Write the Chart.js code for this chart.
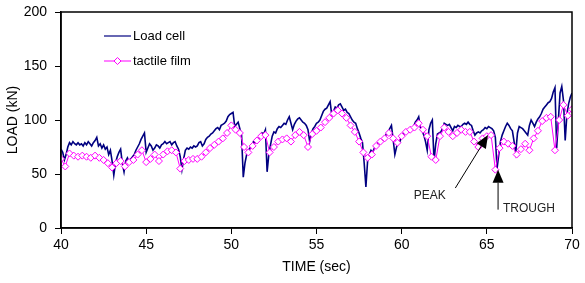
<!DOCTYPE html>
<html>
<head>
<meta charset="utf-8">
<script src="https://cdn.jsdelivr.net/npm/chart.js@4/dist/chart.umd.min.js"></script>
<style>
  html, body { margin: 0; padding: 0; background: #fff; }
  #wrap { width: 585px; height: 283px; position: relative; }
</style>
</head>
<body>
<div id="wrap"><canvas id="loadChart"></canvas></div>
<script>
// Load cell, sampled every 0.1 s from 40.0 to 70.0 s (kN)
const loadStart = 40, loadStep = 0.1;
const loadCell = [
  73, 70, 63, 68, 75, 79, 77, 80, 78, 77,
  79, 77, 78, 76, 79, 77, 80, 78, 76, 79,
  81, 84, 76, 78, 74, 77, 73, 75, 68, 72,
  62, 49, 60, 66, 70, 73, 60, 52, 62, 65,
  61, 64, 66, 68, 72, 75, 78, 82, 85, 88,
  70, 74, 78, 76, 72, 74, 77, 76, 74, 77,
  78, 80, 78, 79, 80, 77, 79, 80, 76, 73,
  66, 54, 64, 72, 74, 73, 75, 74, 76, 75,
  76, 79, 80, 76, 78, 82, 84, 85, 87, 88,
  90, 92, 93, 91, 95, 96, 97, 99, 103, 105,
  106, 107, 94, 96, 98, 92, 86, 47, 60, 68,
  72, 74, 77, 80, 79, 82, 83, 84, 88, 87,
  91, 52, 68, 77, 85, 89, 88, 92, 94, 93,
  95, 97, 96, 100, 103, 97, 91, 96, 99, 101,
  102, 100, 98, 97, 95, 91, 80, 88, 92, 94,
  97, 98, 100, 104, 108, 110, 111, 114, 117, 104,
  108, 112, 111, 114, 115, 112, 109, 110, 107, 106,
  103, 100, 98, 97, 92, 88, 83, 79, 60, 38,
  62, 68, 72, 70, 74, 75, 79, 78, 80, 81,
  84, 87, 89, 92, 95, 82, 68, 75, 78, 80,
  85, 88, 87, 89, 89, 90, 92, 94, 98, 100,
  103, 93, 90, 86, 80, 72, 91, 97, 100, 62,
  78, 87, 88, 89, 92, 97, 96, 95, 96, 93,
  90, 94, 93, 95, 94, 94, 96, 97, 96, 98,
  96, 95, 90, 86, 88, 89, 88, 90, 91, 93,
  92, 94, 93, 92, 90, 84, 55, 68, 80, 86,
  90, 94, 97, 95, 92, 90, 80, 70, 88, 94,
  93, 92, 90, 88, 86, 95, 100, 97, 94, 98,
  101, 103, 106, 110, 112, 114, 116, 117, 120, 126,
  130, 74, 100, 125, 131, 118, 81, 105, 115, 121,
  125
];

// Tactile film, one reading every 0.25 s (kN)
const filmStart = 40, filmStep = 0.25;
const tactileFilm = [
  64, 57, 69, 67,  66, 67, 66, 65,  67, 65, 63, 60,  56, 60, 62, 57,
  61, 63, 68, 72,  61, 64, 68, 62,  68, 71, 72, 70,  55, 62, 63, 64,
  64, 66, 70, 74,  77, 80, 83, 88,  95, 91, 88, 75,  70, 76, 81, 85,
  86, 70, 75, 80,  82, 83, 80, 86,  89, 86, 75, 87,  90, 93, 98, 102,
  106, 109, 106, 102,  95, 89, 80, 70,  65, 68, 76, 80,  83, 88, 83, 79,
  85, 89, 91, 93,  97, 91, 85, 66,  63, 85, 93, 89,  85, 88, 91, 89,
  89, 80, 75, 83,  85, 86, 54, 74,  80, 78, 76, 68,  73, 78, 72, 83,
  90, 99, 102, 103,  72, 100, 114, 104,  110
];

const xTicks = [40, 45, 50, 55, 60, 65, 70];
const yTicks = [0, 50, 100, 150, 200];

// annotation anchors in data units: [tailX, tailY, tipX, tipY]
const peakArrow = [63.15, 37, 65.07, 86];
const troughArrow = [65.66, 17, 65.66, 54];
const peakLabel = [61.65, 30];
const troughLabel = [65.95, 18];

const FONT = "Arial, 'Liberation Sans', sans-serif";
const NAVY = "#000080";
const MAGENTA = "#FF00FF";

const loadPoints = loadCell.map((v, i) => ({ x: loadStart + i * loadStep, y: v }));
const filmPoints = tactileFilm.map((v, i) => ({ x: filmStart + i * filmStep, y: v }));

function drawArrow(ctx, x1, y1, x2, y2) {
  const ang = Math.atan2(y2 - y1, x2 - x1);
  const len = 13, half = 5.5;
  const bx = x2 - len * Math.cos(ang), by = y2 - len * Math.sin(ang);
  ctx.beginPath();
  ctx.moveTo(x1, y1);
  ctx.lineTo(bx, by);
  ctx.stroke();
  ctx.beginPath();
  ctx.moveTo(x2, y2);
  ctx.lineTo(bx + half * Math.sin(ang), by - half * Math.cos(ang));
  ctx.lineTo(bx - half * Math.sin(ang), by + half * Math.cos(ang));
  ctx.closePath();
  ctx.fill();
}

const overlay = {
  id: "overlay",
  afterDatasetsDraw(chart) {
    const { ctx, chartArea: a, scales: { x, y } } = chart;
    ctx.save();

    // frame around plot
    ctx.strokeStyle = "#000";
    ctx.lineWidth = 1.5;
    ctx.strokeRect(a.left, a.top, a.right - a.left, a.bottom - a.top);

    // legend
    ctx.font = "13px " + FONT;
    ctx.textBaseline = "middle";
    ctx.fillStyle = "#000";
    const lx = a.left + 43, ly1 = a.top + 24, ly2 = a.top + 49;
    ctx.strokeStyle = NAVY;
    ctx.lineWidth = 1.2;
    ctx.beginPath(); ctx.moveTo(lx, ly1); ctx.lineTo(lx + 27, ly1); ctx.stroke();
    ctx.fillText("Load cell", lx + 29, ly1);
    ctx.strokeStyle = MAGENTA;
    ctx.lineWidth = 1;
    ctx.beginPath(); ctx.moveTo(lx, ly2); ctx.lineTo(lx + 27, ly2); ctx.stroke();
    ctx.fillStyle = "#fff";
    ctx.beginPath();
    ctx.moveTo(lx + 13.5, ly2 - 3.5); ctx.lineTo(lx + 17, ly2);
    ctx.lineTo(lx + 13.5, ly2 + 3.5); ctx.lineTo(lx + 10, ly2);
    ctx.closePath(); ctx.fill(); ctx.stroke();
    ctx.fillStyle = "#000";
    ctx.fillText("tactile film", lx + 29, ly2);

    // PEAK / TROUGH arrows
    ctx.strokeStyle = "#000";
    ctx.fillStyle = "#000";
    ctx.lineWidth = 1;
    drawArrow(ctx, x.getPixelForValue(peakArrow[0]), y.getPixelForValue(peakArrow[1]),
                   x.getPixelForValue(peakArrow[2]), y.getPixelForValue(peakArrow[3]));
    drawArrow(ctx, x.getPixelForValue(troughArrow[0]), y.getPixelForValue(troughArrow[1]),
                   x.getPixelForValue(troughArrow[2]), y.getPixelForValue(troughArrow[3]));

    ctx.font = "12px " + FONT;
    ctx.fillStyle = "#222";
    ctx.textAlign = "center";
    ctx.fillText("PEAK", x.getPixelForValue(peakLabel[0]), y.getPixelForValue(peakLabel[1]));
    ctx.textAlign = "left";
    ctx.fillText("TROUGH", x.getPixelForValue(troughLabel[0]), y.getPixelForValue(troughLabel[1]));
    ctx.restore();
  }
};

new Chart(document.getElementById("loadChart").getContext("2d"), {
  type: "line",
  data: {
    datasets: [
      {
        label: "tactile film",
        data: filmPoints,
        borderColor: MAGENTA,
        borderWidth: 1,
        pointStyle: "rectRot",
        pointRadius: 3.5,
        pointBorderWidth: 1,
        pointBorderColor: MAGENTA,
        pointBackgroundColor: "#fff",
        tension: 0,
        order: 0
      },
      {
        label: "Load cell",
        data: loadPoints,
        borderColor: NAVY,
        borderWidth: 1.6,
        pointRadius: 0,
        tension: 0,
        order: 1
      }
    ]
  },
  options: {
    responsive: true,
    maintainAspectRatio: false,
    animation: false,
    layout: { autoPadding: false, padding: { left: 0, right: 13, top: 12, bottom: 0 } },
    plugins: {
      legend: { display: false },
      tooltip: { enabled: false }
    },
    scales: {
      x: {
        type: "linear",
        min: 40,
        max: 70,
        afterBuildTicks: (s) => { s.ticks = xTicks.map(v => ({ value: v })); },
        afterFit: (s) => { s.height = 55; s.paddingLeft = 0; s.paddingRight = 0; },
        grid: { drawOnChartArea: false, drawTicks: true, tickLength: 6, color: "#000" },
        border: { display: true, color: "#000", width: 1.5 },
        ticks: { color: "#000", padding: 3, font: { family: FONT, size: 14 } },
        title: { display: true, text: "TIME (sec)", color: "#000", padding: { top: 0, bottom: 7 }, font: { family: FONT, size: 14 } }
      },
      y: {
        min: 0,
        max: 200,
        afterBuildTicks: (s) => { s.ticks = yTicks.map(v => ({ value: v })); },
        afterFit: (s) => { s.width = 61; s.paddingTop = 0; s.paddingBottom = 0; },
        grid: { drawOnChartArea: false, drawTicks: true, tickLength: 6, color: "#000" },
        border: { display: true, color: "#000", width: 1.5 },
        ticks: { color: "#000", padding: 8, font: { family: FONT, size: 14 } },
        title: { display: true, text: "LOAD (kN)", color: "#000", padding: { top: 5, bottom: 0 }, font: { family: FONT, size: 14 } }
      }
    }
  },
  plugins: [overlay]
});
</script>
</body>
</html>
